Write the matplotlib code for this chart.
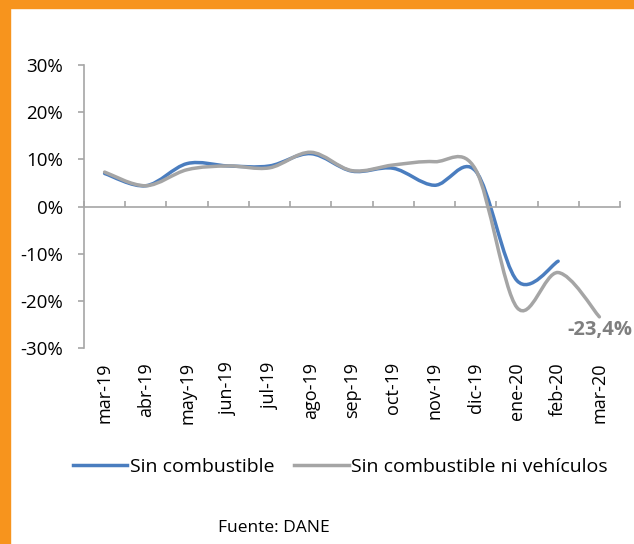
import matplotlib.pyplot as plt
import numpy as np
from matplotlib.path import Path
from matplotlib.patches import PathPatch, Rectangle
from matplotlib.lines import Line2D
import matplotlib.transforms as mtransforms

plt.rcParams['font.family'] = ['Open Sans', 'DejaVu Sans']

months = ['mar-19', 'abr-19', 'may-19', 'jun-19', 'jul-19', 'ago-19', 'sep-19',
          'oct-19', 'nov-19', 'dic-19', 'ene-20', 'feb-20', 'mar-20']
sin_comb = [7.0, 4.4, 9.1, 8.6, 8.6, 11.2, 7.5, 8.1, 4.5, 7.5, -15.7, -11.6]
sin_comb_veh = [7.3, 4.4, 7.8, 8.6, 8.2, 11.5, 7.6, 8.8, 9.5, 7.8, -21.4, -14.0, -23.4]
last_label = '-23,4%'

blue = '#4A7DBF'
gray = '#A5A5A5'
axis_gray = '#A6A6A6'


def smooth_path(xs, ys):
    # excel-like smoothed line: catmull-rom segments as cubic beziers
    pts = np.column_stack([xs, ys])
    n = len(pts)
    verts = [pts[0]]
    codes = [Path.MOVETO]
    for i in range(n - 1):
        p0 = pts[max(i - 1, 0)]
        p1 = pts[i]
        p2 = pts[i + 1]
        p3 = pts[min(i + 2, n - 1)]
        verts += [p1 + (p2 - p0) / 6, p2 - (p3 - p1) / 6, p2]
        codes += [Path.CURVE4] * 3
    return Path(verts, codes)


fig = plt.figure(figsize=(6.34, 5.44), dpi=100)
ax = fig.add_axes([84 / 634, 1 - 348 / 544, 536 / 634, 283 / 544])

x = np.arange(len(months))
for vals, col in [(sin_comb, blue), (sin_comb_veh, gray)]:
    path = smooth_path(x[:len(vals)], vals)
    ax.add_patch(PathPatch(path, facecolor='none', edgecolor=col, lw=2.5,
                           capstyle='round', joinstyle='round'))

ax.set_xlim(-0.5, len(months) - 0.5)
ax.set_ylim(-30, 30)
ax.set_yticks(range(-30, 31, 10))
ax.set_yticklabels([f'{v}%' for v in range(-30, 31, 10)], fontsize=13.5)

for s in ['top', 'right']:
    ax.spines[s].set_visible(False)
ax.spines['left'].set_color(axis_gray)
ax.spines['left'].set_linewidth(1.2)
ax.spines['bottom'].set_position(('data', 0))
ax.spines['bottom'].set_color(axis_gray)
ax.spines['bottom'].set_linewidth(1.2)

ax.set_xticks(np.arange(-0.5, len(months), 1.0))
ax.set_xticklabels([])
ax.tick_params(axis='x', direction='in', length=4, color=axis_gray, width=1.2)
ax.tick_params(axis='y', direction='out', length=4, color=axis_gray, width=1.2, pad=11)

trans = mtransforms.blended_transform_factory(ax.transData, ax.transAxes)
for i, m in enumerate(months):
    ax.text(i, -0.05, m, rotation=90, ha='center', va='top', fontsize=13,
            transform=trans)

ax.text(len(months) - 1, sin_comb_veh[-1] - 0.6, last_label, ha='center', va='top',
        fontsize=14.5, fontweight='bold', color='#7F7F7F')

handles = [Line2D([], [], color=blue, lw=2.5), Line2D([], [], color=gray, lw=2.5)]
fig.legend(handles, ['Sin combustible', 'Sin combustible ni vehículos'],
           loc='center', bbox_to_anchor=(0.537, 1 - 467 / 544), ncol=2, frameon=False,
           fontsize=14, handlelength=2.8, handletextpad=0.15, columnspacing=1.0)

fig.text(0.432, 1 - 528 / 544, 'Fuente: DANE', ha='center', va='center', fontsize=12.5)

orange = '#F7941D'
fig.patches.append(Rectangle((0, 1 - 8 / 544), 1, 8 / 544, transform=fig.transFigure,
                             color=orange, zorder=10))
fig.patches.append(Rectangle((0, 0), 10 / 634, 1, transform=fig.transFigure,
                             color=orange, zorder=10))

fig.savefig('out.png', dpi=100)
